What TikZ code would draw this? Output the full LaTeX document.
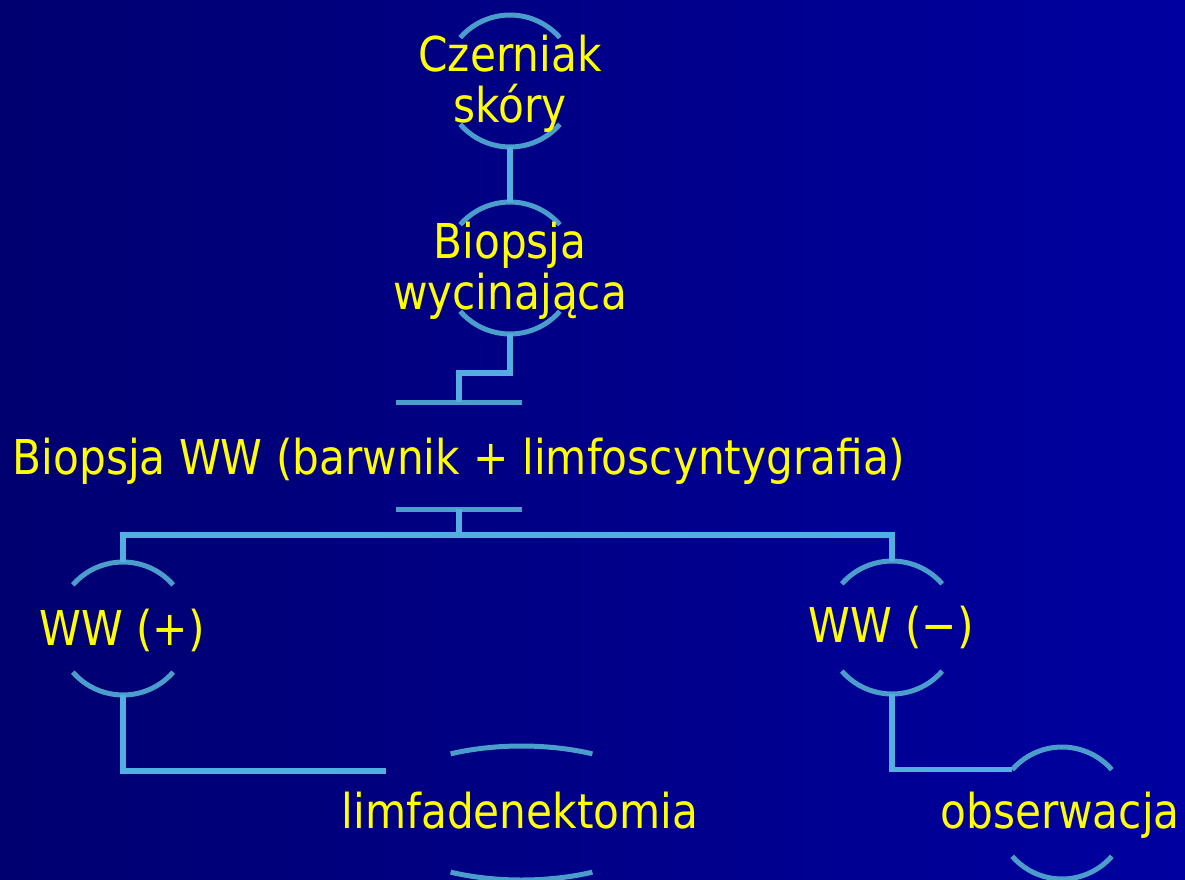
\documentclass[tikz,border=0pt]{standalone}
\usepackage{fontspec}
\setmainfont[FakeStretch=0.88]{DejaVu Sans}
\usetikzlibrary{calc,shapes.geometric}
\definecolor{bgl}{RGB}{0,0,112}
\definecolor{bgr}{RGB}{0,0,160}
\definecolor{arcc}{RGB}{75,158,204}
\definecolor{linec}{RGB}{84,174,226}
\definecolor{txt}{RGB}{255,255,0}
\newcommand\ringarcs[4]{%
  \draw[arcline] ($(#1.center)+(#4:#2pt and #3pt)$) arc[start angle=#4, end angle={180-#4}, x radius=#2pt, y radius=#3pt];
  \draw[arcline] ($(#1.center)+(-#4:#2pt and #3pt)$) arc[start angle=-#4, end angle={-180+#4}, x radius=#2pt, y radius=#3pt];}
\begin{document}
\begin{tikzpicture}[x=1pt,y=-1pt,
  lbl/.style={text=txt, font=\fontsize{48}{51}\selectfont, inner sep=0pt, align=center},
  ring/.style={circle, minimum size=#1, inner sep=0pt, outer sep=0pt},
  conn/.style={draw=linec, line width=5.5pt},
  arcline/.style={draw=arcc, line width=5pt}]
\shade[left color=bgl, right color=bgr] (0,0) rectangle (1185,880);
\useasboundingbox (0,0) rectangle (1185,880);

% shape holders
\node[ring=132pt] (r1) at (510,81) {};
\node[ring=132pt] (r2) at (510,268) {};
\node[rectangle, minimum width=126pt, minimum height=107pt, inner sep=0pt, outer sep=0pt] (r3) at (459,455.5) {};
\node[ring=133pt] (r4) at (123,628.5) {};
\node[ring=133pt] (r5) at (892,627.5) {};
\node[ellipse, minimum width=302pt, minimum height=134pt, inner sep=0pt, outer sep=0pt] (r6) at (521.5,813) {};
\node[ring=132pt] (r7) at (1062,813) {};

% arcs
\ringarcs{r1}{66}{66}{41}
\ringarcs{r2}{66}{66}{41}
\ringarcs{r4}{66.5}{66.5}{41}
\ringarcs{r5}{66.5}{66.5}{41}
\ringarcs{r6}{151}{67}{62}
\ringarcs{r7}{66}{66}{41}
\draw[arcline] (r3.north west) -- (r3.north east);
\draw[arcline] (r3.south west) -- (r3.south east);

% connectors
\coordinate (e1) at (386,771);
\coordinate (r7in) at ($(r7.center)+(139:66pt)$);
\draw[conn] (r1.south) -- (r2.north);
\draw[conn] (r2.south) -- ++(0,39) -| (r3.north);
\draw[conn] (r3.south) -- ++(0,26) coordinate (j);
\draw[conn] (r4.north) |- (j) -| (r5.north);
\draw[conn] (r4.south) |- (e1);
\draw[conn] (r5.south) |- (r7in);

% texts
\node[lbl] (t1) at (510,84) {Czerniak\\skóry};
\node[lbl] (t2) at (510,271) {Biopsja\\wycinająca};
\node[lbl, anchor=base] (t3) at (459,474) {Biopsja WW (barwnik + limfoscyntygrafia)};
\node[lbl, anchor=base] (t4) at (122,645) {WW (+)};
\node[lbl, anchor=base] (t5) at (891,642) {WW (\textminus)};
\node[lbl, anchor=base] (t6) at (520,828) {limfadenektomia};
\node[lbl, anchor=base] (t7) at (1060,828) {obserwacja};
\end{tikzpicture}
\end{document}
